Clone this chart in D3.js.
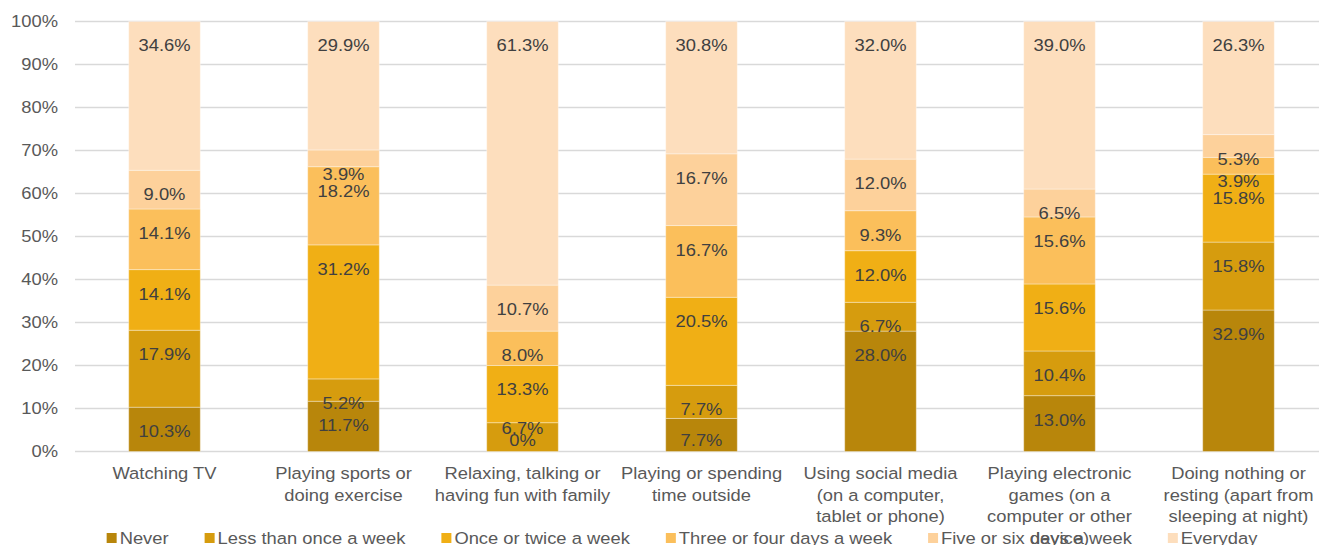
<!DOCTYPE html>
<html>
<head>
<meta charset="utf-8">
<script src="https://cdn.jsdelivr.net/npm/d3@7"></script>
<style>
  html, body { margin: 0; padding: 0; background: #fff; }
  svg { display: block; font-family: "Liberation Sans", Arial, sans-serif; }
</style>
</head>
<body>
<svg id="chart" width="1319" height="545"></svg>
<script>
// Activities (line breaks mark how each axis label wraps)
const categories = [
  "Watching TV",
  "Playing sports or\ndoing exercise",
  "Relaxing, talking or\nhaving fun with family",
  "Playing or spending\ntime outside",
  "Using social media\n(on a computer,\ntablet or phone)",
  "Playing electronic\ngames (on a\ncomputer or other\ndevice)",
  "Doing nothing or\nresting (apart from\nsleeping at night)"
];

const seriesNames = [
  "Never",
  "Less than once a week",
  "Once or twice a week",
  "Three or four days a week",
  "Five or six days a week",
  "Everyday"
];

// Percent of respondents per frequency, one value per activity
const never          = [10.3, 11.7,  0.0,  7.7, 28.0, 13.0, 32.9];
const lessThanWeekly = [17.9,  5.2,  6.7,  7.7,  6.7, 10.4, 15.8];
const onceOrTwice    = [14.1, 31.2, 13.3, 20.5, 12.0, 15.6, 15.8];
const threeOrFour    = [14.1, 18.2,  8.0, 16.7,  9.3, 15.6,  3.9];
const fiveOrSix      = [ 9.0,  3.9, 10.7, 16.7, 12.0,  6.5,  5.3];
const everyday       = [34.6, 29.9, 61.3, 30.8, 32.0, 39.0, 26.3];

const yTicks = [0, 0.1, 0.2, 0.3, 0.4, 0.5, 0.6, 0.7, 0.8, 0.9, 1.0];

const colors = ["#B8860B", "#D69C0E", "#F0AF15", "#FBBF5B", "#FDD19B", "#FDDEBD"];

// ---------------------------------------------------------------
const seriesValues = [never, lessThanWeekly, onceOrTwice, threeOrFour, fiveOrSix, everyday];
const table = categories.map((c, i) => {
  const row = { category: c };
  seriesNames.forEach((s, j) => { row[s] = seriesValues[j][i]; });
  return row;
});

const stacked = d3.stack()
  .keys(seriesNames)
  .offset(d3.stackOffsetExpand)(table);

const svg = d3.select("#chart");
const FONT = 17;
const SX = 1.08;           // slight horizontal stretch of all text
const textColor = "#404040";
const axisColor = "#595959";

const x = d3.scaleBand()
  .domain(categories)
  .range([75, 1328])
  .paddingInner(0.6)
  .paddingOuter(0.3);

const y = d3.scaleLinear().domain([0, 1]).range([451.5, 21.5]);

function place(sel, px, py) {
  return sel.attr("transform", `translate(${px},${py}) scale(${SX},1)`);
}

// Gridlines
svg.append("g")
  .selectAll("line")
  .data(yTicks)
  .join("line")
  .attr("x1", x.range()[0])
  .attr("x2", x.range()[1])
  .attr("y1", d => y(d))
  .attr("y2", d => y(d))
  .attr("stroke", "#D9D9D9")
  .attr("stroke-width", 1.5);

// Y tick labels
const fmtPct = d3.format(".0%");
svg.append("g")
  .selectAll("text")
  .data(yTicks)
  .join("text")
  .attr("text-anchor", "end")
  .attr("dy", "0.35em")
  .attr("font-size", FONT)
  .attr("fill", axisColor)
  .text(d => fmtPct(d))
  .each(function (d) { place(d3.select(this), 58, y(d)); });

// Stacked bars
const layers = svg.append("g")
  .selectAll("g")
  .data(stacked)
  .join("g")
  .attr("fill", (d, i) => colors[i]);

layers.selectAll("rect")
  .data(d => d)
  .join("rect")
  .attr("x", d => x(d.data.category))
  .attr("width", x.bandwidth())
  .attr("y", d => y(d[1]))
  .attr("height", d => Math.max(0, y(d[0]) - y(d[1])))
  .attr("stroke", "#ffffff")
  .attr("stroke-opacity", 0.35)
  .attr("stroke-width", 1);

// Value labels: placed just inside the top of each segment,
// kept inside the plot and nudged upward when they would collide.
const labelG = svg.append("g");
const bottomLimit = y(0) - 11;
categories.forEach((cat, i) => {
  let prev = null;
  stacked.forEach((layer, j) => {
    const seg = layer[i];
    const val = seriesValues[j][i];
    let ty = Math.min(y(seg[1]) + 24, bottomLimit);
    if (prev !== null && ty > prev - 12) ty = prev - 12;
    prev = ty;
    const label = val === 0 ? "0%" : d3.format(".1f")(val) + "%";
    const t = labelG.append("text")
      .attr("text-anchor", "middle")
      .attr("dy", "0.35em")
      .attr("font-size", FONT)
      .attr("fill", textColor)
      .text(label);
    place(t, x(cat) + x.bandwidth() / 2, ty);
  });
});

// Category labels (wrapped)
const catG = svg.append("g");
categories.forEach(cat => {
  const lines = cat.split("\n");
  lines.forEach((ln, k) => {
    const t = catG.append("text")
      .attr("text-anchor", "middle")
      .attr("dy", "0.35em")
      .attr("font-size", FONT)
      .attr("fill", axisColor)
      .text(ln);
    place(t, x(cat) + x.bandwidth() / 2, 473 + k * 21.7);
  });
});

// Legend
const legendY = 538;
const legendGap = 36;
const legend = svg.append("g");
const items = legend.selectAll("g")
  .data(seriesNames)
  .join("g");
items.append("rect")
  .attr("width", 10)
  .attr("height", 10)
  .attr("y", legendY - 5)
  .attr("fill", (d, i) => colors[i]);
items.append("text")
  .attr("dy", "0.35em")
  .attr("font-size", FONT)
  .attr("fill", axisColor)
  .text(d => d)
  .each(function () { place(d3.select(this), 13, legendY); });

let cursor = 0;
items.each(function () {
  const g = d3.select(this);
  const w = g.select("text").node().getComputedTextLength() * SX;
  g.attr("transform", `translate(${cursor},0)`);
  cursor += 13 + w + legendGap;
});
const totalW = cursor - legendGap;
legend.attr("transform", `translate(${682 - totalW / 2},0)`);
</script>
</body>
</html>
